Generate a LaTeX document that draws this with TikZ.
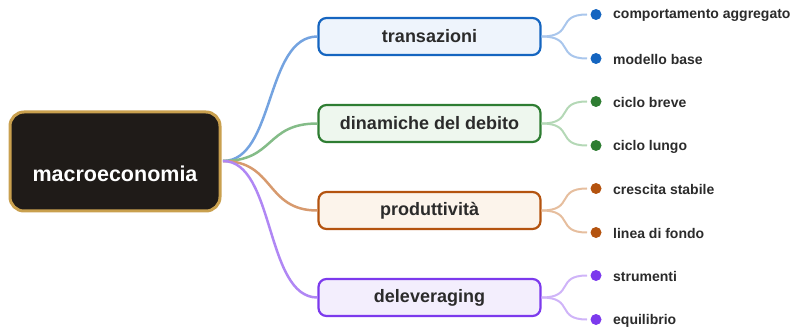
\documentclass[tikz,border=0pt]{standalone}
\usepackage{fontspec}
\setmainfont{Liberation Sans}
\begin{document}
\begin{tikzpicture}[x=1pt,y=-1pt,
  rootbox/.style={draw=rootb,fill=rootf,line width=3pt,rounded corners=14pt,minimum width=210pt,minimum height=99pt},
  roottxt/.style={text=white,font=\fontsize{21.5}{25}\selectfont\bfseries,inner sep=0pt},
  branchbox/.style={line width=2.2pt,rounded corners=8pt,minimum width=222pt,minimum height=37pt,text=txt,font=\fontsize{18}{21}\selectfont\bfseries},
  leafdot/.style={circle,inner sep=0pt,minimum size=11pt},
  leaftxt/.style={anchor=west,text=txt,font=\fontsize{14}{17}\selectfont\bfseries,inner sep=0pt},
  conn/.style={line width=2.5pt},
  lconn/.style={line width=2pt}]
\definecolor{rootb}{HTML}{C9A04E}
\definecolor{rootf}{HTML}{1F1B18}
\definecolor{txt}{HTML}{2B2B2B}
\definecolor{bA}{HTML}{1565C0}\definecolor{fA}{HTML}{EEF4FC}\definecolor{lA}{HTML}{74A3E0}\definecolor{mA}{HTML}{A9C6EC}
\definecolor{bB}{HTML}{2E7D32}\definecolor{fB}{HTML}{EEF7EE}\definecolor{lB}{HTML}{84BC88}\definecolor{mB}{HTML}{B4D8B6}
\definecolor{bC}{HTML}{B4530F}\definecolor{fC}{HTML}{FCF4EB}\definecolor{lC}{HTML}{D79A6E}\definecolor{mC}{HTML}{E6BE9E}
\definecolor{bD}{HTML}{7C3AED}\definecolor{fD}{HTML}{F3EEFD}\definecolor{lD}{HTML}{B087F4}\definecolor{mD}{HTML}{CFB4F8}
\useasboundingbox (0,0) rectangle (811,331);
\node[rootbox] (root) at (115,161.5) {};
\node[roottxt] (roott) at (115,174) {macroeconomia};
\coordinate (rs) at (223,161);
\foreach \n/\t/\y/\c/\la/\lb in {A/transazioni/36.5/A/comportamento aggregato/modello base,
  B/dinamiche del debito/123.5/B/ciclo breve/ciclo lungo,
  C/produttività/210.5/C/crescita stabile/linea di fondo,
  D/deleveraging/297.5/D/strumenti/equilibrio}{
  \node[branchbox,draw=b\c,fill=f\c] (\n) at (429.5,\y) {\t};
  \draw[conn,draw=l\c] (rs) .. controls (275,161) and (265,\y) .. (\n.west);
  \node[leafdot,fill=b\c] (\n1) at (596,\y-22) {};
  \node[leafdot,fill=b\c] (\n2) at (596,\y+22) {};
  \node[leaftxt] (\n1t) at (613,\y-21) {\la};
  \node[leaftxt] (\n2t) at (613,\y+23) {\lb};
  \coordinate (\n1e) at (587,\y-22);
  \coordinate (\n2e) at (587,\y+22);
  \draw[lconn,draw=m\c] (\n.east) .. controls (575,\y) and (555,\y-22) .. (\n1e);
  \draw[lconn,draw=m\c] (\n.east) .. controls (575,\y) and (555,\y+22) .. (\n2e);
}
\end{tikzpicture}
\end{document}
